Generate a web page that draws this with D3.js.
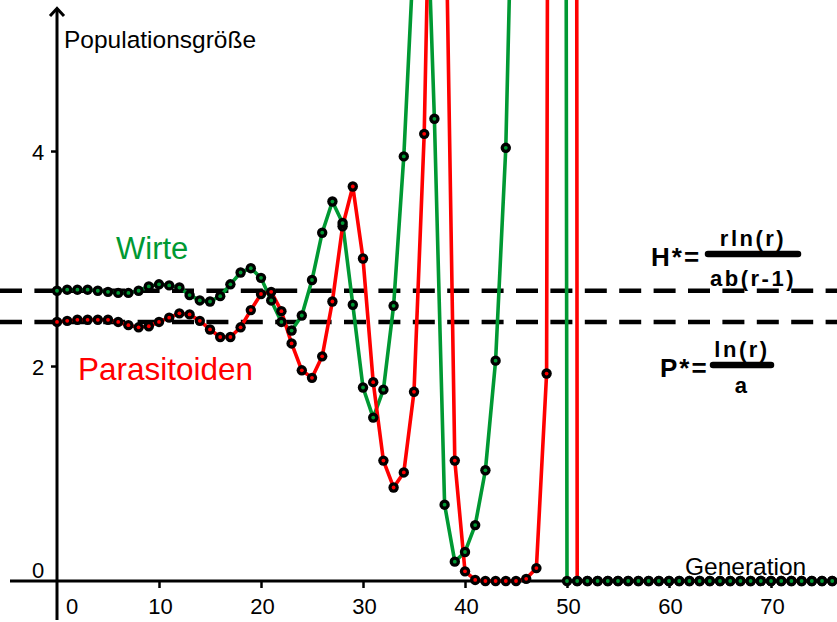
<!DOCTYPE html>
<html>
<head>
<meta charset="utf-8">
<script src="https://cdn.jsdelivr.net/npm/d3@7"></script>
<style>
  html, body { margin: 0; padding: 0; background: #fff; }
  svg { display: block; font-family: "Liberation Sans", Arial, sans-serif; }
</style>
</head>
<body>
<script>
// Nicholson–Bailey host–parasitoid simulation, generations 0..77
const hosts = [
  2.70, 2.71, 2.71, 2.71, 2.70, 2.69, 2.68, 2.68, 2.70, 2.74,
  2.76, 2.75, 2.73, 2.66, 2.61, 2.60, 2.65, 2.76, 2.87, 2.91,
  2.82, 2.61, 2.41, 2.33, 2.47, 2.80, 3.24, 3.53, 3.33, 2.57,
  1.80, 1.52, 1.78, 2.56, 3.95, 5.9, 7.1, 4.30, 0.71, 0.18,
  0.27, 0.52, 1.03, 2.05, 4.03, 8.1, 16, 32, 62, 71,
  0, 0, 0, 0, 0, 0, 0, 0, 0, 0,
  0, 0, 0, 0, 0, 0, 0, 0, 0, 0,
  0, 0, 0, 0, 0, 0, 0, 0
];
const parasitoids = [
  2.41, 2.42, 2.43, 2.43, 2.43, 2.43, 2.41, 2.38, 2.36, 2.37,
  2.41, 2.45, 2.49, 2.48, 2.42, 2.34, 2.27, 2.27, 2.36, 2.52,
  2.67, 2.69, 2.51, 2.21, 1.96, 1.89, 2.09, 2.60, 3.30, 3.67,
  3.00, 1.85, 1.12, 0.87, 1.01, 1.76, 4.16, 8.8, 7.0, 1.12,
  0.09, 0.01, 0.00, 0.00, 0.00, 0.00, 0.02, 0.12, 1.93, 47,
  126, 0, 0, 0, 0, 0, 0, 0, 0, 0,
  0, 0, 0, 0, 0, 0, 0, 0, 0, 0,
  0, 0, 0, 0, 0, 0, 0, 0
];
const hostEquilibrium = 2.70;      // H*
const parasitoidEquilibrium = 2.41; // P*
const xTicks = [10, 20, 30, 40, 50, 60, 70];
const yTicks = [2, 4];

const W = 837, H = 622;
const GREEN = "#009933", RED = "#ff0000";
const FONT = "'Liberation Sans', Arial, sans-serif";

const svg = d3.select("body").append("svg").attr("width", W).attr("height", H);
svg.append("rect").attr("width", W).attr("height", H).attr("fill", "#fff");

const x = d3.scaleLinear().domain([0, 76.47]).range([57, 837]);
const y = d3.scaleLinear().domain([0, 5.405]).range([581, 0]);
const gens = d3.range(hosts.length);

// equilibrium lines
[hostEquilibrium, parasitoidEquilibrium].forEach(v => {
  svg.append("line")
    .attr("x1", 0).attr("x2", W)
    .attr("y1", y(v)).attr("y2", y(v))
    .attr("stroke", "#000").attr("stroke-width", 4.5)
    .attr("stroke-dasharray", "22,12.4");
});

// x axis
const xAxis = d3.axisBottom(x).tickValues(xTicks).tickSize(7).tickSizeOuter(0).tickFormat(d3.format("d"));
const gx = svg.append("g").attr("transform", `translate(0,${y(0)})`).call(xAxis);
gx.select(".domain").remove();
gx.selectAll(".tick line").attr("stroke", "#000").attr("stroke-width", 2.5);
gx.selectAll(".tick text").attr("font-size", 22).attr("fill", "#000").attr("y", 0).attr("dy", 33).attr("dx", 1)
  .attr("font-family", FONT);
svg.append("line").attr("x1", 10).attr("x2", W).attr("y1", y(0)).attr("y2", y(0))
  .attr("stroke", "#000").attr("stroke-width", 3);
svg.append("text").attr("x", 72).attr("y", 614).attr("text-anchor", "middle")
  .attr("font-size", 22).text("0");

// y axis
const yAxis = d3.axisLeft(y).tickValues(yTicks).tickSize(6).tickSizeOuter(0).tickFormat(d3.format("d"));
const gy = svg.append("g").attr("transform", `translate(${x(0)},0)`).call(yAxis);
gy.select(".domain").remove();
gy.selectAll(".tick line").attr("stroke", "#000").attr("stroke-width", 2.5);
gy.selectAll(".tick text").attr("font-size", 22).attr("fill", "#000")
  .attr("x", -19).attr("text-anchor", "middle").attr("dy", "0.38em")
  .attr("font-family", FONT);
svg.append("line").attr("x1", x(0)).attr("x2", x(0)).attr("y1", 9).attr("y2", 620)
  .attr("stroke", "#000").attr("stroke-width", 3);
svg.append("path").attr("d", `M${x(0) - 7},16 L${x(0)},8.5 L${x(0) + 7},16`)
  .attr("fill", "none").attr("stroke", "#000").attr("stroke-width", 3);
svg.append("text").attr("x", 38).attr("y", 578).attr("text-anchor", "middle")
  .attr("font-size", 22).text("0");

// axis titles
svg.append("text").attr("x", 64).attr("y", 48).attr("font-size", 24.5).text("Populationsgröße");
svg.append("text").attr("x", 685).attr("y", 575).attr("font-size", 24.5).text("Generation");

// series lines
const line = d3.line().x((d, i) => x(gens[i])).y(d => y(d));
svg.append("path").datum(hosts).attr("d", line)
  .attr("fill", "none").attr("stroke", GREEN).attr("stroke-width", 3.6).attr("stroke-linejoin", "round");
svg.append("path").datum(parasitoids).attr("d", line)
  .attr("fill", "none").attr("stroke", RED).attr("stroke-width", 3.6).attr("stroke-linejoin", "round");

// points
function drawPoints(values, color) {
  const g = svg.append("g");
  const pts = values.map((v, i) => ({ g: gens[i], v })).filter(p => y(p.v) > -10);
  g.selectAll("circle.outer").data(pts).join("circle")
    .attr("cx", p => x(p.g)).attr("cy", p => y(p.v)).attr("r", 5.2).attr("fill", "#000");
  g.selectAll("circle.inner").data(pts).join("circle")
    .attr("class", "inner")
    .attr("cx", p => x(p.g)).attr("cy", p => y(p.v)).attr("r", 1.9).attr("fill", color);
}
drawPoints(parasitoids, RED);
drawPoints(hosts, GREEN);

// series labels
svg.append("text").attr("x", 116).attr("y", 259).attr("font-size", 31).attr("fill", GREEN).text("Wirte");
svg.append("text").attr("x", 78).attr("y", 380).attr("font-size", 31.5).attr("fill", RED).text("Parasitoiden");

// equilibrium formulas
function fraction(lead, leadX, baseY, barX1, barX2, num, den, numDy, denDy, spacing) {
  const g = svg.append("g").attr("font-weight", "bold").attr("fill", "#000");
  g.append("text").attr("x", leadX).attr("y", baseY).attr("font-size", 26).attr("letter-spacing", 2).text(lead);
  const barY = baseY - 12;
  g.append("line").attr("x1", barX1).attr("x2", barX2).attr("y1", barY).attr("y2", barY)
    .attr("stroke", "#000").attr("stroke-width", 6.5).attr("stroke-linecap", "round");
  const cx = (barX1 + barX2) / 2;
  g.append("text").attr("x", cx).attr("y", barY + numDy).attr("text-anchor", "middle")
    .attr("font-size", 22).attr("letter-spacing", spacing).text(num);
  g.append("text").attr("x", cx).attr("y", barY + denDy).attr("text-anchor", "middle")
    .attr("font-size", 22).attr("letter-spacing", spacing).text(den);
}
fraction("H*=", 651, 266, 708, 798, "rln(r)", "ab(r-1)", -8, 32, 2.5);
fraction("P*=", 660, 377, 713, 771, "ln(r)", "a", -8, 28, 2.5);
</script>
</body>
</html>
